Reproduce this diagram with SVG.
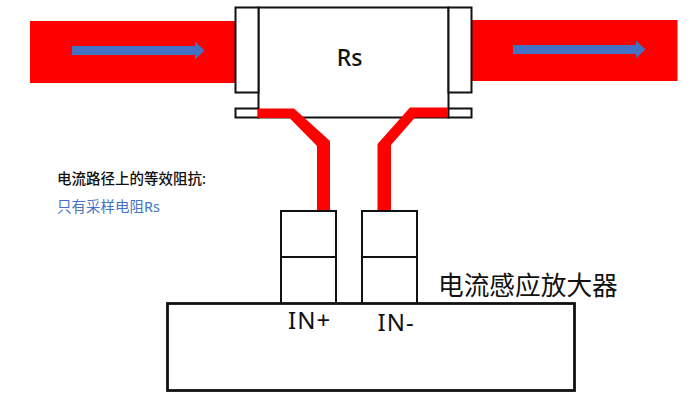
<svg xmlns="http://www.w3.org/2000/svg" width="690" height="404" viewBox="0 0 690 404">
<style>
.box{fill:#fff;stroke:#111;stroke-width:2}
.red{fill:#f00}
.blue{fill:#4472c4}
.pin{font-size:24px;letter-spacing:1px}
text{font-family:"Noto Sans","Noto Sans CJK SC",sans-serif;fill:#111}
</style>
<rect width="690" height="404" fill="#fff"/>
<g id="bus-left"><rect class="red" x="30" y="21" width="205" height="62"/><path class="blue" d="M72 46H195V41.500L204.500 50.500L195 59.500V55H72Z"/></g>
<g id="bus-right"><rect class="red" x="472" y="20" width="205.500" height="61"/><path class="blue" d="M513 45H636V40.500L645.500 49.500L636 58V54H513Z"/></g>
<g id="rs">
<rect class="box" x="258.500" y="7.500" width="190" height="110"/>
<rect class="box" x="235.500" y="7.500" width="23" height="85"/>
<rect class="box" x="235.500" y="108.500" width="23" height="9"/>
<rect class="box" x="448.500" y="7.500" width="23" height="85"/>
<rect class="box" x="448.500" y="108.500" width="23" height="9"/>
<text x="349.500" y="66" font-size="23" text-anchor="middle" font-weight="500">Rs</text>
</g>
<g id="connectors">
<path class="red" d="M258 108.500H294L330 141V210H317V146L289.500 118H258Z"/>
<path class="red" d="M447.500 107.500H410L377.500 144V211H391V145L415 117.500H447.500Z"/>
</g>
<g id="pin-plus"><rect class="box" x="281" y="211" width="55" height="46"/><rect class="box" x="281" y="257" width="55" height="47"/></g>
<g id="pin-minus"><rect class="box" x="362" y="211" width="55" height="46"/><rect class="box" x="362" y="257" width="55" height="47"/></g>
<g id="amplifier">
<rect x="167.500" y="303.500" width="407" height="87" fill="#fff" stroke="#111" stroke-width="2.800"/>
<text class="pin" x="288" y="329">IN+</text>
<text class="pin" x="377.500" y="331">IN-</text>
<text x="438" y="295" font-size="25.700">电流感应放大器</text>
</g>
<g id="notes">
<text x="57" y="184" font-size="14.500" font-weight="500">电流路径上的等效阻抗:</text>
<text x="57" y="212" font-size="14.500" style="fill:#4472c4">只有采样电阻Rs</text>
</g>
</svg>
